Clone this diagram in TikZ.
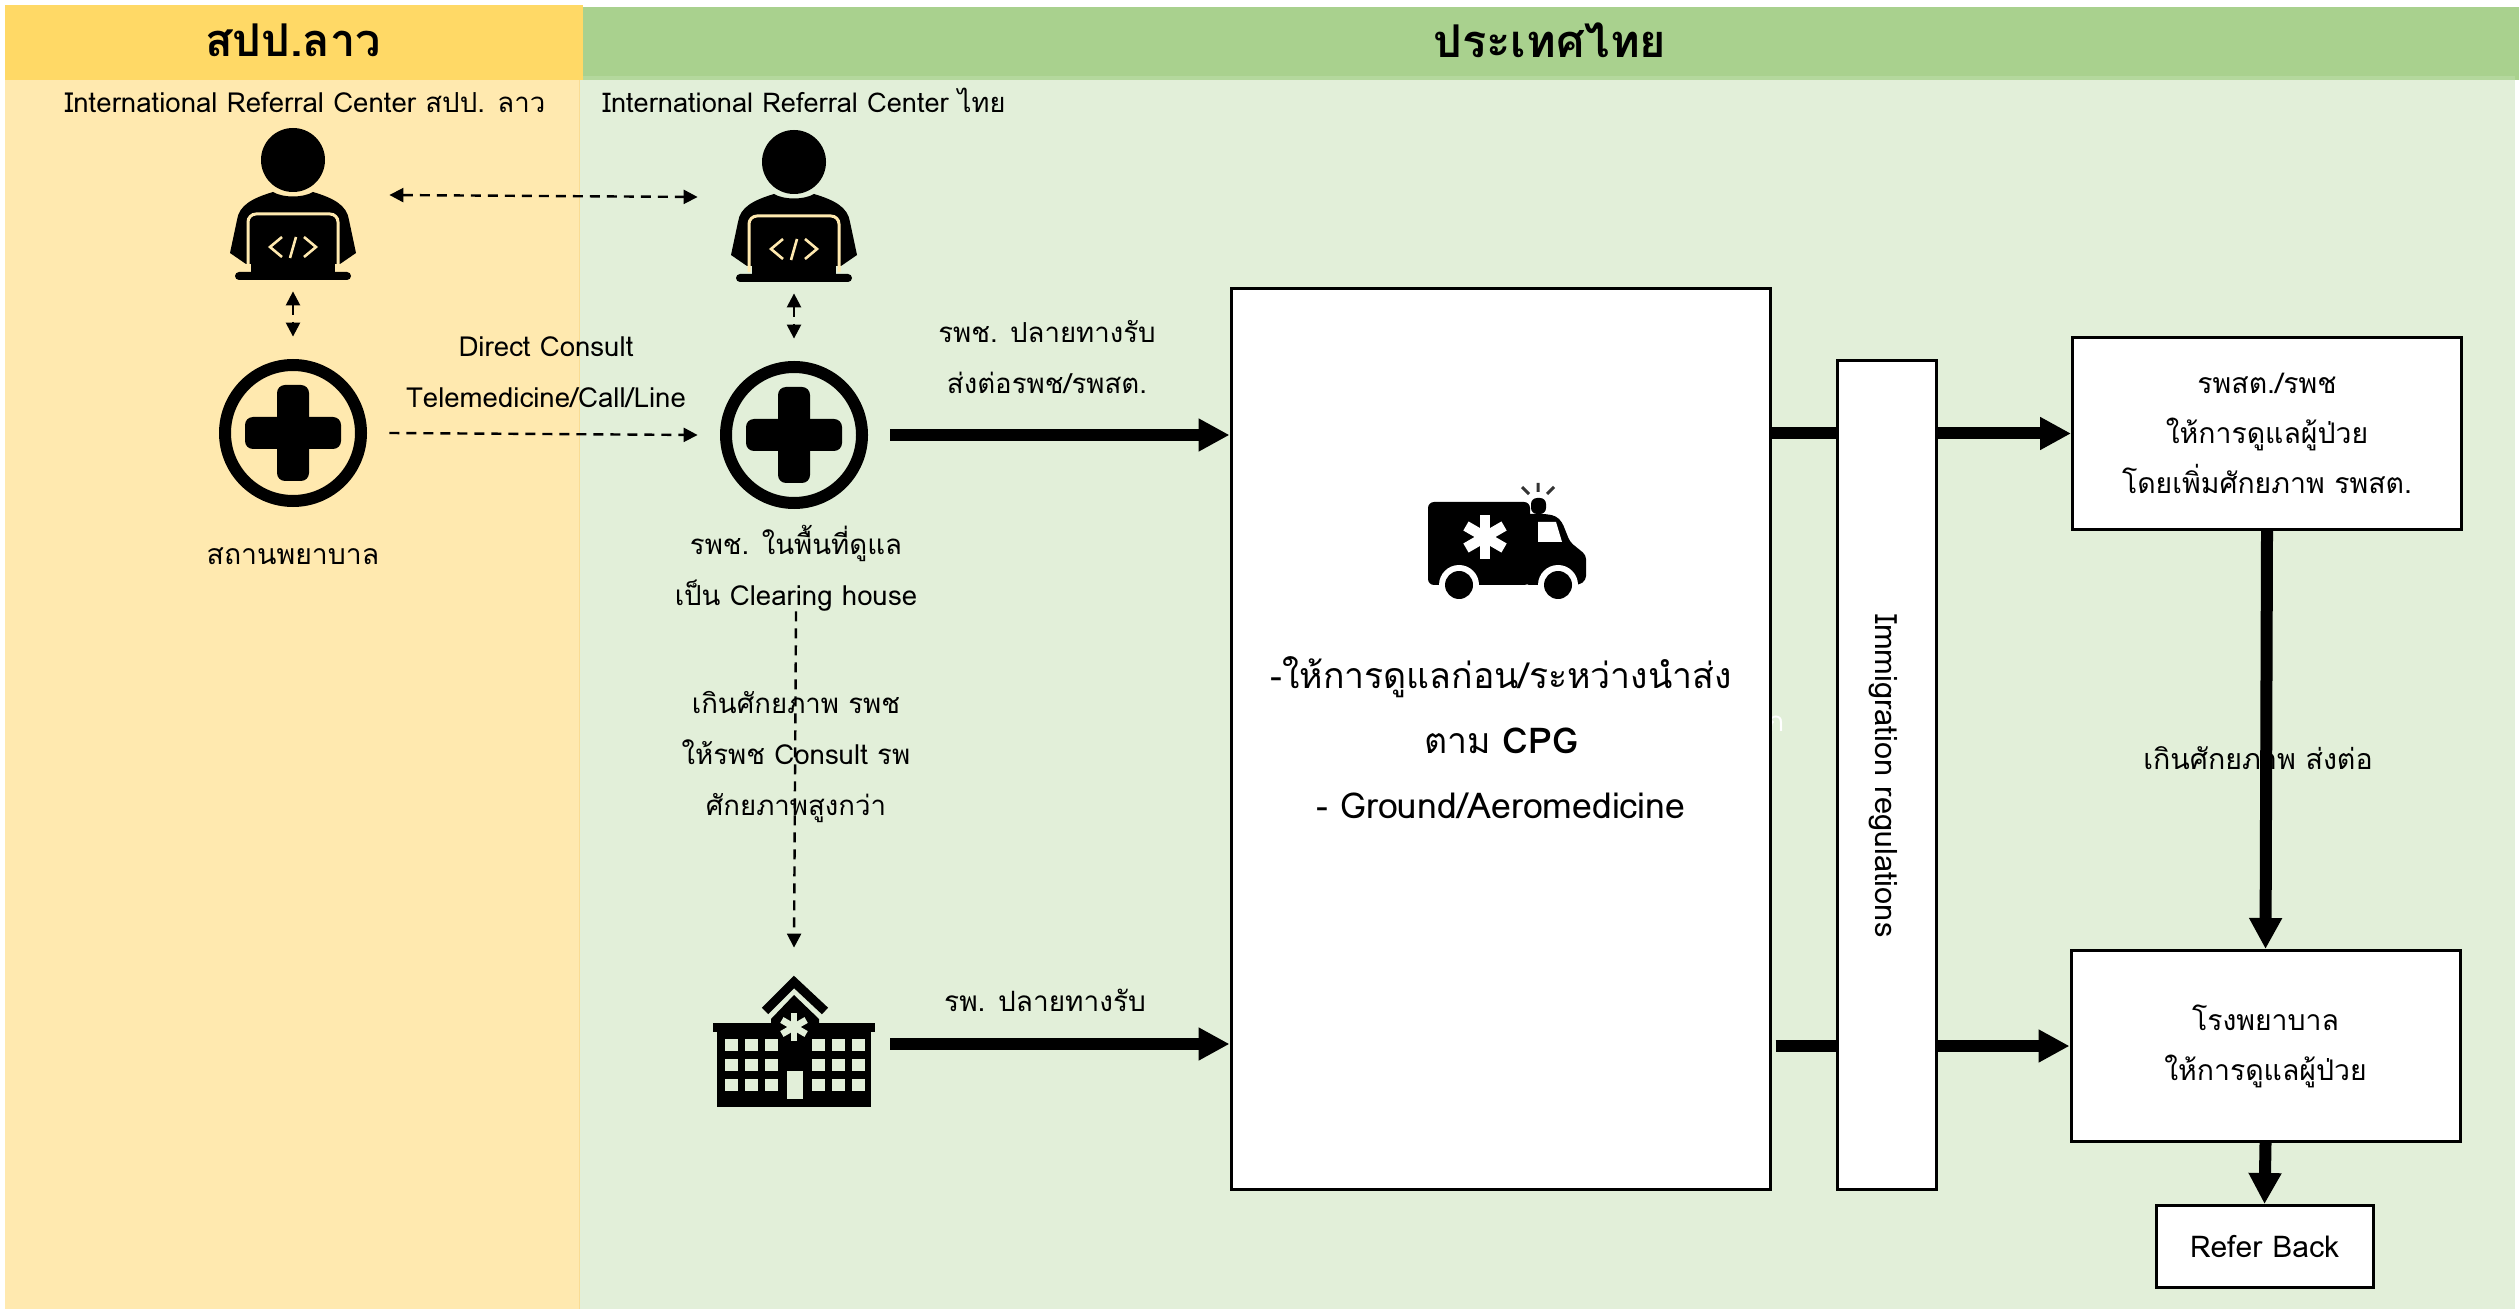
\documentclass[tikz,border=0pt]{standalone}
\usepackage{fontspec}
\setmainfont{Loma}[Script=Thai]
\usepackage{tikz}
\usetikzlibrary{calc}
\usetikzlibrary{positioning}
\usetikzlibrary{arrows.meta}
\definecolor{laohead}{HTML}{FFD966}
\definecolor{laopale}{HTML}{FFE9AF}
\definecolor{laoedge}{HTML}{F9DC94}
\definecolor{thaihead}{HTML}{A9D18E}
\definecolor{thaistrip}{HTML}{B4D89D}
\definecolor{thaipale}{HTML}{E2EFD9}
\tikzset{
    iconnode/.style={inner sep=0pt,minimum size=96pt},
    boxnode/.style={draw,line width=1.5pt,fill=white,inner sep=0pt,align=center,font=\fontsize{14.2}{25}\selectfont},
    txt/.style={inner sep=0pt,align=center,font=\fontsize{13.8}{25.5}\selectfont},
    headtxt/.style={inner sep=0pt,font=\fontsize{22.6}{28}\selectfont\bfseries},
    dasharrow/.style={line width=1.2pt,dash pattern=on 5pt off 3.5pt,-{Triangle[length=7pt,width=7pt]}},
    bothdash/.style={dasharrow,{Triangle[length=7pt,width=7pt]}-{Triangle[length=7pt,width=7pt]}},
    bigline/.style={line width=6pt},
    bigarrow/.style={bigline,-{Triangle[length=15.5pt,width=15.5pt]}},
}
% icons are drawn around their centre, lengths in pixels of the grid
\newcommand{\personicon}[3]{
    \begin{scope}[shift={(#1,#2)}]
    \fill (0,0) ellipse (32 and 32);
    \fill (-20,32) .. controls (-10,38) and (10,38) .. (20,32)
        .. controls (40,38) and (54,45) .. (56,60) -- (63,93) -- (47,104) -- (-47,104) -- (-63,93) -- (-56,60)
        .. controls (-54,45) and (-40,38) .. (-20,32) -- cycle;
    \draw[#3,line width=1.5pt,rounded corners=4pt] (-45,110) -- (-45,54) -- (45,54) -- (45,110);
    \fill (-42,58) rectangle (42,113);
    \fill[rounded corners=2pt] (-58,112) rectangle (58,120);
    \draw[#3,line width=1.3pt] (-11,77) -- (-23,87) -- (-11,97) (-3,98) -- (3,77) (11,77) -- (23,87) -- (11,97);
    \end{scope}
}
\newcommand{\plusicon}[2]{
    \begin{scope}[shift={(#1,#2)}]
    \draw[line width=6pt] (0,0) circle (68);
    \fill[rounded corners=4pt] (-16,-48) rectangle (16,48);
    \fill[rounded corners=4pt] (-48,-16) rectangle (48,16);
    \end{scope}
}
\newcommand{\staricon}[4]{
    \foreach \a in {0,60,120} {
        \fill[#4,rotate around={\a:(#1,#2)}] ($(#1,#2)+(-#3/4.2,-#3)$) rectangle ($(#1,#2)+(#3/4.2,#3)$);
    }
}
\begin{document}
\begin{tikzpicture}[x=0.5pt,y=-0.5pt]
    \useasboundingbox (0,0) rectangle (2519,1309);
    % bands
    \fill[laopale] (5,80) rectangle (580,1309);
    \fill[thaipale] (580,76) rectangle (2515,1309);
    \fill[laoedge] (578.5,80) rectangle (580,1309);
    \fill[thaihead] (583,7) rectangle (2519,80);
    \fill[thaistrip] (583,76) rectangle (2515,80);
    \fill[laohead] (5,5) rectangle (583,80);
    \node[headtxt] (laohdr) at (293,40) {สปป.ลาว};
    \node[headtxt] (thaihdr) at (1550,40) {ประเทศไทย};
    \node[txt] (ircA) at (305,102) {International Referral Center สปป. ลาว};
    \node[txt,font=\fontsize{13.6}{25.5}\selectfont] (ircB) at (804,100) {International Referral Center ไทย};

    % icons
    \node[iconnode] (personA) at (293,195) {};
    \node[iconnode] (personB) at (794,197) {};
    \node[iconnode] (plusA) at (293,433) {};
    \node[iconnode] (plusB) at (794,435) {};
    \node[iconnode] (hospital) at (794,1044) {};
    \personicon{293}{160}{laopale}
    \personicon{794}{162}{laopale}
    \plusicon{293}{433}
    \plusicon{794}{435}

    \fill (717,1031) rectangle (871,1107);
    \fill (713,1023) rectangle (875,1032);
    \fill (771,1024) -- (771,1019) -- (794,995) -- (819,1019) -- (819,1024) -- cycle;
    \draw[line width=4.5pt] (765,1011) -- (794,982) -- (825,1011);
    \staricon{794}{1027}{14}{thaipale}
    \foreach \c in {725,745,765,812,832,852} {
        \foreach \r in {1039,1059,1079} {
            \fill[thaipale] (\c,\r) rectangle +(12.5,12);
        }
    }
    \fill[thaipale] (786.5,1071) rectangle (803,1098.5);

    \node[txt,text=white] (hiddenA) at (1776,724) {ก};

    % boxes
    \node[boxnode,minimum width=269.5pt,minimum height=450pt] (bigbox) at (1500.5,739) {};
    \node[boxnode,minimum width=49.5pt,minimum height=414.5pt] (immbox) at (1887,775) {};
    \node[boxnode,minimum width=194.5pt,minimum height=96pt] (boxA) at (2267,433.5) {รพสต./รพช\\ให้การดูแลผู้ป่วย\\โดยเพิ่มศักยภาพ รพสต.};
    \node[boxnode,minimum width=194.5pt,minimum height=95.5pt] (boxB) at (2265.5,1046) {โรงพยาบาล\\ให้การดูแลผู้ป่วย};
    \node[boxnode,minimum width=108.5pt,minimum height=41pt,font=\fontsize{15}{25}\selectfont] (refer) at (2264.5,1246.5) {Refer Back};

    % ambulance
    \fill[rounded corners=3pt] (1428,502) rectangle (1530,585);
    \fill[rounded corners=2pt] (1525,514) -- (1546,514) -- (1556,516) -- (1562,522) -- (1570,542) -- (1586,555) -- (1586,580) -- (1579,585) -- (1525,585) -- cycle;
    \fill[rounded corners=3pt] (1531,514) -- (1531,498) -- (1546,498) -- (1546,514) -- cycle;
    \draw[line width=1.5pt,black!80] (1538,483) -- (1538,492) (1522,487) -- (1529,494) (1554,487) -- (1547,494);
    \fill[white] (1538,522) -- (1556,522) -- (1562,542) -- (1538,542) -- cycle;
    \staricon{1485}{537}{22}{white}
    \fill[white] (1459,585) circle (20) (1558,585) circle (20);
    \fill[white] (1430,585) rectangle (1590,600);
    \fill (1459,585) circle (14) (1558,585) circle (14);

    % connectors
    \draw[bothdash] (personA.east) -- (personB.west);
    \draw[bothdash] (personA.south) -- (plusA.north);
    \draw[bothdash] (personB.south) -- (plusB.north);
    \draw[dasharrow] (plusA.east) -- (plusB.west);
    \node[txt] (clearB) at (796,568) {รพช. ในพื้นที่ดูแล\\เป็น Clearing house};
    \draw[dasharrow] (clearB.south) -- (hospital.north);
    \draw[bigarrow] (plusB.east) -- (plusB.east -| bigbox.west);
    \draw[bigarrow] (hospital.east) -- (hospital.east -| bigbox.west);
    \draw[bigline] (boxA.west -| bigbox.east) -- (boxA.west -| immbox.west);
    \draw[bigarrow] (boxA.west -| immbox.east) -- (boxA.west);
    \draw[bigline,shorten <=2pt] (boxB.west -| bigbox.east) -- (boxB.west -| immbox.west);
    \draw[bigarrow] (boxB.west -| immbox.east) -- (boxB.west);
    \draw[bigarrow] (boxA.south) -- (boxB.north);
    \draw[bigarrow] (boxB.south) -- (refer.north);

    % labels
    \node[txt] (consultA) at (546,372.5) {Direct Consult\\Telemedicine/Call/Line};
    \node[txt,font=\fontsize{14.2}{25}\selectfont] (plusAlbl) at (293,556) {สถานพยาบาล};
    \node[txt] (overcap) at (796,757) {เกินศักยภาพ รพช\\ให้รพช Consult รพ\\ศักยภาพสูงกว่า};
    \node[txt] (destA) at (1047,357) {รพช. ปลายทางรับ\\ส่งต่อรพช/รพสต.};
    \node[txt,font=\fontsize{14}{25}\selectfont] (destB) at (1045,1000) {รพ. ปลายทางรับ};
    \node[txt,font=\fontsize{17.8}{32.5}\selectfont] (cpgtxt) at (1501,737.5) {-ให้การดูแลก่อน/ระหว่างนำส่ง\\ตาม \textbf{CPG}\\- Ground/Aeromedicine};
    \node[txt,rotate=-90,font=\fontsize{15.4}{25}\selectfont] (immtxt) at (1883,776) {Immigration regulations};
    \node[txt,font=\fontsize{14.3}{25}\selectfont] (overcapB) at (2258,758) {เกินศักยภาพ ส่งต่อ};
\end{tikzpicture}
\end{document}
